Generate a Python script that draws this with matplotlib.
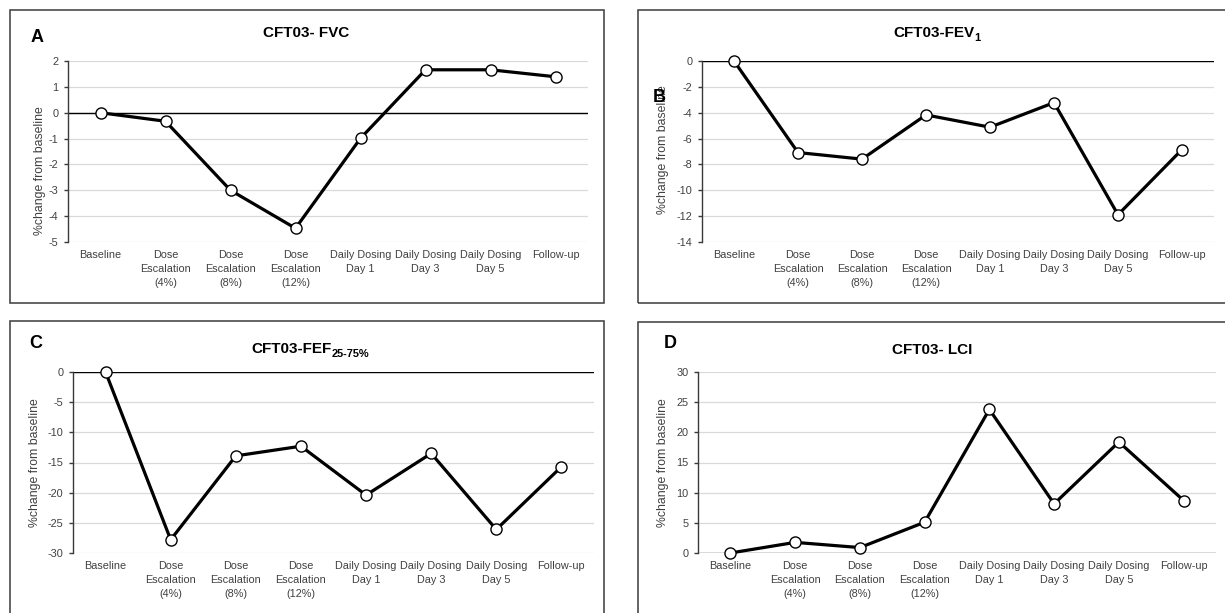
import matplotlib
matplotlib.use("Agg")
import matplotlib.pyplot as plt
from matplotlib.patches import Rectangle
import numpy as np

plt.rcParams['font.family'] = ['Liberation Sans', 'DejaVu Sans']
plt.rcParams['axes.unicode_minus'] = False

# ---------------- data ----------------
categories = ["Baseline", "Dose\nEscalation\n(4%)", "Dose\nEscalation\n(8%)",
              "Dose\nEscalation\n(12%)", "Daily Dosing\nDay 1", "Daily Dosing\nDay 3",
              "Daily Dosing\nDay 5", "Follow-up"]

fvc = [0.0, -0.33, -3.0, -4.47, -0.99, 1.66, 1.66, 1.39]
fev1 = [0.0, -7.08, -7.59, -4.17, -5.12, -3.22, -11.89, -6.85]
fef = [0.0, -27.8, -13.9, -12.3, -20.4, -13.5, -26.1, -15.7]
lci = [0.0, 1.76, 0.9, 5.1, 23.8, 8.15, 18.4, 8.7]

W, H = 1225, 613
fig = plt.figure(figsize=(W / 100, H / 100), dpi=100)
fig.patch.set_facecolor('white')

TXT = '#404040'


def px_rect(l, t, r, b):
    return [l / W, 1 - b / H, (r - l) / W, (b - t) / H]


def frame(l, t, r, b):
    fig.patches.append(Rectangle((l / W, 1 - b / H), (r - l) / W, (b - t) / H,
                                 transform=fig.transFigure, fill=False,
                                 edgecolor='#3a3a3a', lw=1.1, zorder=0))


def title_sub(xc, yc, main, sub, size=11):
    r = fig.canvas.get_renderer()
    t1 = fig.text(0, 1 - yc / H, main, fontsize=size, fontweight='bold', ha='left',
                  va='center', color='black')
    w1 = t1.get_window_extent(renderer=r).width
    w2 = 0
    t2 = None
    if sub:
        t2 = fig.text(0, 0, sub, fontsize=size * 0.72, fontweight='bold', ha='left',
                      va='center', color='black')
        w2 = t2.get_window_extent(renderer=r).width
    x0 = xc - (w1 + w2) / 2
    t1.set_x(x0 / W)
    if t2 is not None:
        t2.set_x((x0 + w1) / W)
        t2.set_y(1 - (yc + 5) / H)


def panel(rect, data, ylim, step, zero_color='black'):
    ax = fig.add_axes(px_rect(*rect))
    x = np.arange(len(data)) + 0.5
    ax.set_xlim(0, len(data))
    ax.set_ylim(*ylim)
    ax.set_yticks(np.arange(ylim[0], ylim[1] + step / 2, step))
    ax.grid(axis='y', color='#d9d9d9', lw=0.9, zorder=0)
    ax.set_axisbelow(True)
    for s in ['top', 'right', 'bottom']:
        ax.spines[s].set_visible(False)
    ax.spines['left'].set_color('#3a3a3a')
    ax.spines['left'].set_linewidth(1.0)
    ax.axhline(0, color=zero_color, lw=1.0, zorder=1)
    ax.plot(x, data, color='black', lw=2.3, marker='o', ms=8, mfc='white',
            mec='black', mew=1.0, zorder=3, clip_on=False)
    ax.set_xticks(x)
    ax.set_xticklabels(categories, fontsize=7.8, color=TXT)
    for lbl in ax.get_xticklabels():
        lbl.set_linespacing(1.45)
    ax.tick_params(axis='x', length=0, pad=6)
    ax.tick_params(axis='y', length=3, width=1.0, color='#3a3a3a', direction='out',
                   labelsize=7.8, labelcolor=TXT, pad=4)
    ax.patch.set_alpha(0)
    return ax


# frames
frame(10, 10, 604, 303)
frame(638, 10, 1240, 303)
frame(10, 321, 604, 630)
frame(638, 322, 1240, 630)

panel((68, 61, 588, 242), fvc, (-5, 2), 1)
panel((702, 61, 1214, 242), fev1, (-14, 0), 2)
panel((73, 372, 594, 553), fef, (-30, 0), 5)
panel((698, 372, 1216, 553), lci, (0, 30), 5, zero_color='#595959')

# y labels
for (xc, yc) in [(40, 171), (663, 150), (35, 463), (663, 463)]:
    fig.text(xc / W, 1 - yc / H, "%change from baseline", rotation=90, fontsize=8.8,
             color=TXT, ha='center', va='center')

# titles
title_sub(306, 33, "CFT03- FVC", None)
title_sub(937, 33, "CFT03-FEV", "1")
title_sub(310, 349, "CFT03-FEF", "25-75%")
title_sub(932, 350, "CFT03- LCI", None)

# panel letters
for (xc, yc, s) in [(37, 37, "A"), (659, 97, "B"), (36, 344, "C"), (670, 344, "D")]:
    fig.text(xc / W, 1 - yc / H, s, fontsize=13, fontweight='bold', color='black',
             ha='center', va='center')

fig.savefig("out.png", dpi=100, facecolor='white')
